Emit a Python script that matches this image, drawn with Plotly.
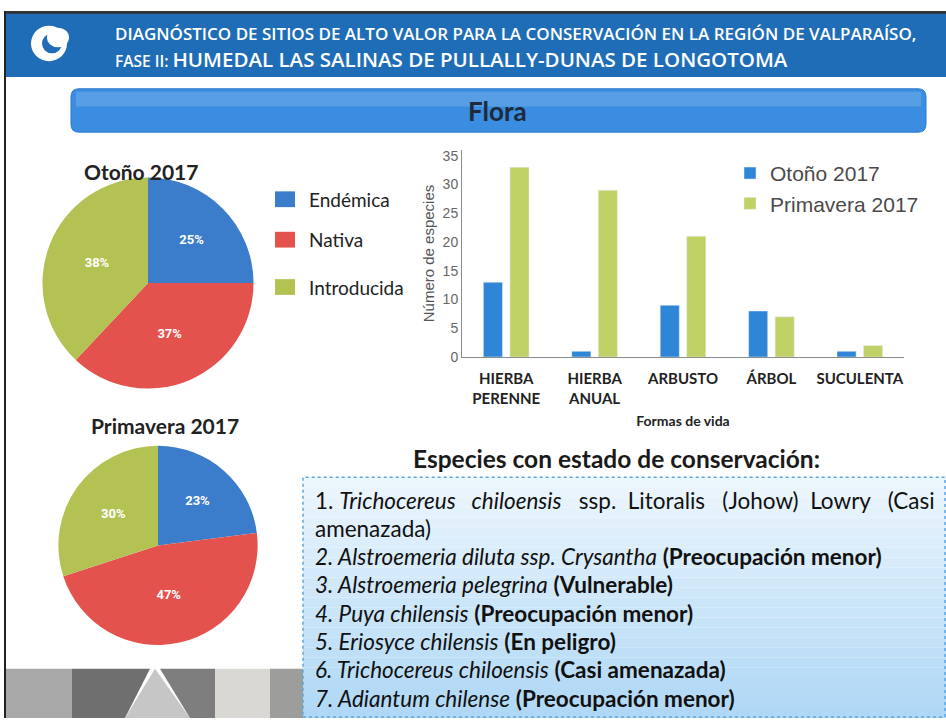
import plotly.graph_objects as go

W, H = 946, 726

# --- data ---
pie_labels = ["Endémica", "Nativa", "Introducida"]
otono_pct = [25, 37, 38]
primavera_pct = [23, 47, 30]
pie_colors = ["#3b7dca", "#e4524e", "#b4c254"]

formas = ["HIERBA<br>PERENNE", "HIERBA<br>ANUAL", "ARBUSTO", "ÁRBOL", "SUCULENTA"]
otono_bar = [13, 1, 9, 8, 1]
primavera_bar = [33, 29, 21, 7, 2]
y_ticks = [0, 5, 10, 15, 20, 25, 30, 35]

header_1 = "DIAGNÓSTICO DE SITIOS DE ALTO VALOR PARA LA CONSERVACIÓN EN LA REGIÓN DE VALPARAÍSO,"
header_2a = "FASE II: "
header_2b = "HUMEDAL LAS SALINAS DE PULLALLY-DUNAS DE LONGOTOMA"

S2 = "&nbsp;&nbsp;"
S3 = "&nbsp;&nbsp;&nbsp;"
especies = [
    f"1. <i>Trichocereus{S3}chiloensis</i>{S3}ssp.{S2}Litoralis{S3}(Johow){S2}Lowry{S3}(Casi",
    "amenazada)",
    "<i>2. Alstroemeria diluta ssp. Crysantha</i> <b>(Preocupación menor)</b>",
    "<i>3. Alstroemeria pelegrina</i> <b>(Vulnerable)</b>",
    "<i>4. Puya chilensis</i> <b>(Preocupación menor)</b>",
    "<i>5. Eriosyce chilensis</i> <b>(En peligro)</b>",
    "<i>6. Trichocereus chiloensis</i> <b>(Casi amenazada)</b>",
    "<i>7. Adiantum chilense</i> <b>(Preocupación menor)</b>",
]

TXT = "Lato, Open Sans"


def px(x):
    return x / W


def py(y):
    return 1 - y / H


def note(text, x, y, size, color="#222", xanchor="center", family=TXT, weight=None):
    f = dict(size=size, color=color, family=family)
    if weight:
        f["weight"] = weight
    return dict(text=text, xref="paper", yref="paper", x=px(x), y=py(y),
                xanchor=xanchor, yanchor="middle", showarrow=False, font=f)


fig = go.Figure()

# pies
for vals, dom in [(otono_pct, ([41, 255], [392, 178])),
                  (primavera_pct, ([57, 259], [652, 450]))]:
    fig.add_trace(go.Pie(
        labels=pie_labels, values=vals, sort=False, direction="clockwise",
        marker=dict(colors=pie_colors, line=dict(width=0)),
        texttemplate="<b>%{value}%</b>", textposition="inside",
        insidetextorientation="horizontal",
        textfont=dict(color="white", size=13, family="Roboto"),
        domain=dict(x=[px(dom[0][0]), px(dom[0][1])], y=[py(dom[1][0]), py(dom[1][1])]),
        showlegend=False, hoverinfo="label+percent",
    ))

# bars
fig.add_trace(go.Bar(x=formas, y=otono_bar, name="Otoño 2017",
                     marker_color="#2f86d6", legend="legend2"))
fig.add_trace(go.Bar(x=formas, y=primavera_bar, name="Primavera 2017",
                     marker_color="#c0d266", legend="legend2"))

fig.update_layout(
    width=W, height=H, margin=dict(l=0, r=0, t=0, b=0),
    paper_bgcolor="white", plot_bgcolor="rgba(0,0,0,0)",
    barmode="group", bargap=0.4, bargroupgap=0.28,
    font=dict(family=TXT, color="#222"),
    xaxis=dict(domain=[px(462), px(904)], showline=True, linecolor="#8c8c8c",
               linewidth=1, ticks="", ticklabelstandoff=8,
               tickfont=dict(size=15, family=TXT, color="#222"),
               tickprefix="<b>", ticksuffix="</b>",
               title=dict(text="<b>Formas de vida</b>", font=dict(size=14, color="#222"),
                          standoff=10)),
    yaxis=dict(domain=[py(360), py(150)], range=[0, 36], showline=True,
               linecolor="#8c8c8c", linewidth=1, showgrid=False, zeroline=False,
               tickvals=y_ticks, ticks="",
               tickfont=dict(size=14, family="Liberation Sans", color="#666"),
               title=dict(text="Número de especies",
                          font=dict(size=15, family="Liberation Sans", color="#555"),
                          standoff=4)),
    legend2=dict(x=px(730), y=py(153), xanchor="left", yanchor="top",
                 font=dict(size=21, family="Liberation Sans", color="#4a4a4a"),
                 bgcolor="rgba(0,0,0,0)", itemwidth=30, tracegroupgap=0),
    showlegend=True,
)

shapes = []
annotations = []

# slide border + header band
shapes.append(dict(type="rect", xref="paper", yref="paper", x0=px(5), x1=px(946),
                   y0=py(76), y1=py(10), fillcolor="#1f6db6", line=dict(width=0), layer="below"))
shapes.append(dict(type="rect", xref="paper", yref="paper", x0=px(5), x1=px(946),
                   y0=py(12), y1=py(9), fillcolor="#333", line=dict(width=0), layer="below"))
shapes.append(dict(type="line", xref="paper", yref="paper", x0=px(5), x1=px(5),
                   y0=py(726), y1=py(9), line=dict(color="#222", width=2)))
# logo
shapes.append(dict(type="circle", xref="paper", yref="paper", x0=px(31), x1=px(67),
                   y0=py(60), y1=py(24), fillcolor="white", line=dict(width=0)))
shapes.append(dict(type="circle", xref="paper", yref="paper", x0=px(42), x1=px(62),
                   y0=py(52), y1=py(32), fillcolor="#1f6db6", line=dict(width=0)))
shapes.append(dict(type="circle", xref="paper", yref="paper", x0=px(47), x1=px(69),
                   y0=py(46), y1=py(26), fillcolor="white", line=dict(width=0)))

annotations.append(note(header_1, 113, 32, 17, "white", "left", "Open Sans", 600))
annotations.append(note(f"<span style='font-size:15.5px'>{header_2a}</span>{header_2b}",
                        113, 58, 20.5, "white", "left", "Open Sans", 600))

# Flora banner (rounded)
x0, x1, y0, y1, r = 71, 926, 88, 132, 8
path = (f"M {x0+r},{y0} L {x1-r},{y0} Q {x1},{y0} {x1},{y0+r} L {x1},{y1-r} "
        f"Q {x1},{y1} {x1-r},{y1} L {x0+r},{y1} Q {x0},{y1} {x0},{y1-r} "
        f"L {x0},{y0+r} Q {x0},{y0} {x0+r},{y0} Z")


def conv_path(p):
    out = []
    for tok in p.split():
        if "," in tok:
            a, b = tok.split(",")
            out.append(f"{px(float(a)):.5f},{py(float(b)):.5f}")
        else:
            out.append(tok)
    return " ".join(out)


shapes.append(dict(type="path", xref="paper", yref="paper", path=conv_path(path),
                   fillcolor="#3a8de0", line=dict(color="#2d7bcc", width=1), layer="below"))
shapes.append(dict(type="rect", xref="paper", yref="paper", x0=px(76), x1=px(921),
                   y0=py(106), y1=py(91), fillcolor="rgba(255,255,255,0.15)",
                   line=dict(width=0), layer="below"))
annotations.append(note("<b>Flora</b>", 498, 111, 26, "#1e2a3a"))

# pie titles
annotations.append(note("<b>Otoño 2017</b>", 141, 172, 21, "#222"))
annotations.append(note("<b>Primavera 2017</b>", 165, 429, 21, "#222"))

# pie legend
for lab, col, yy in zip(pie_labels, pie_colors, [200, 241, 289]):
    shapes.append(dict(type="rect", xref="paper", yref="paper", x0=px(275), x1=px(295),
                       y0=py(yy + 8), y1=py(yy - 8), fillcolor=col, line=dict(width=0)))
    annotations.append(note(lab, 307, yy, 19, "#222", "left"))

# species box
annotations.append(note("<b>Especies con estado de conservación:</b>", 616, 463, 24.5, "#1a1a1a"))
n = 24
top, bot = 482, 726
c0, c1 = (236, 246, 253), (176, 216, 246)
for i in range(n):
    t = i / (n - 1)
    col = tuple(int(c0[k] + (c1[k] - c0[k]) * t) for k in range(3))
    ya = top + (bot - top) * i / n
    yb = top + (bot - top) * (i + 1) / n
    shapes.append(dict(type="rect", xref="paper", yref="paper", x0=px(303), x1=px(946),
                       y0=py(yb), y1=py(ya), fillcolor=f"rgb{col}", line=dict(width=0),
                       layer="below"))
shapes.append(dict(type="rect", xref="paper", yref="paper", x0=px(303), x1=px(945),
                   y0=py(725), y1=py(482), fillcolor="rgba(0,0,0,0)",
                   line=dict(color="#5aa6e4", width=1.5, dash="dot")))
for i, line in enumerate(especies):
    annotations.append(note(line, 313, 505 + 28.7 * i, 22.5, "#111", "left"))

# bottom-left decorative strip
strip = [
    ("#a8a8a8", [(5, 676), (72, 676), (72, 726), (5, 726)]),
    ("#6f6f6f", [(72, 676), (150, 676), (125, 726), (72, 726)]),
    ("#c6c6c6", [(155, 676), (190, 726), (125, 726)]),
    ("#7e7e7e", [(160, 676), (215, 676), (215, 726), (190, 726)]),
    ("#dad8d4", [(215, 676), (270, 676), (270, 726), (215, 726)]),
    ("#9d9d9b", [(270, 676), (303, 676), (303, 726), (270, 726)]),
]
for col, pts in strip:
    p = "M " + " L ".join(f"{px(a):.5f},{py(b):.5f}" for a, b in pts) + " Z"
    shapes.append(dict(type="path", xref="paper", yref="paper", path=p,
                       fillcolor=col, line=dict(width=0), layer="below"))

fig.update_layout(shapes=shapes, annotations=annotations)
fig.write_html("out.html", config={"displayModeBar": False},
               post_script="document.body.style.margin='0';")
